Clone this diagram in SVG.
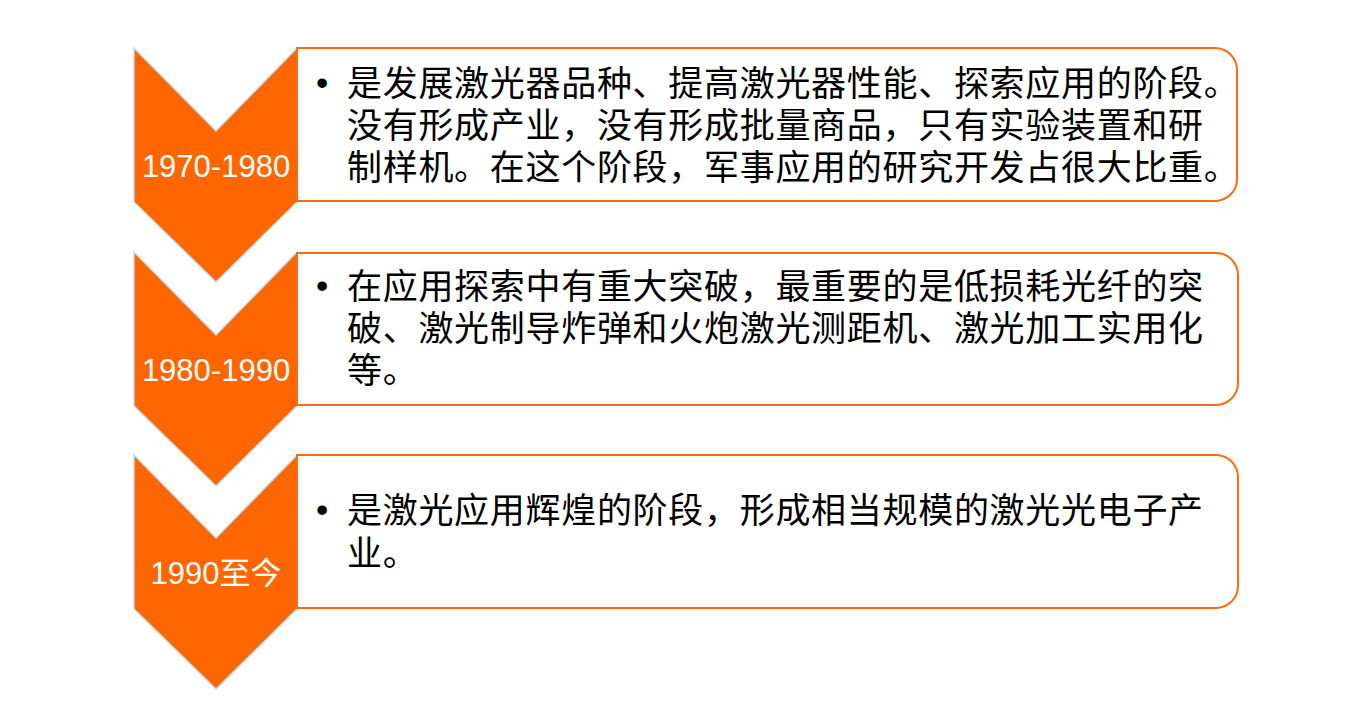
<svg xmlns="http://www.w3.org/2000/svg" width="1369" height="721" viewBox="0 0 1369 721">
<style>
.chev{fill:#ff6600;stroke:#bfe0e4;stroke-width:1.5}
.box{fill:#ffffff;stroke:#ff6a10;stroke-width:2}
.lbl{font-family:"Liberation Sans","Noto Sans CJK SC",sans-serif;font-size:31px;fill:#ffffff;text-anchor:middle}
.txt{font-family:"Noto Sans CJK SC","Noto Sans CJK TC",sans-serif;font-size:35px;letter-spacing:0.7px;fill:#000000}
.bul{font-family:"Liberation Sans",sans-serif;font-size:35px;fill:#000000}
</style>
<rect width="1369" height="721" fill="#ffffff"/>
<g id="connectors"></g>
<g id="stage1">
<polygon class="chev" points="134,48 216,131 297,48 297,202 216,282 134,202"/>
<path class="box" d="M297,48 H1215 A22,22 0 0 1 1237,70 V179 A22,22 0 0 1 1215,201 H297 Z"/>
<text class="lbl" x="216" y="177">1970-1980</text>
<text class="bul" x="316" y="95">•</text>
<text class="txt"><tspan x="347" y="96">是发展激光器品种、提高激光器性能、探索应用的阶段。</tspan><tspan x="347" y="138">没有形成产业，没有形成批量商品，只有实验装置和研</tspan><tspan x="347" y="180">制样机。在这个阶段，军事应用的研究开发占很大比重。</tspan></text>
</g>
<g id="stage2">
<polygon class="chev" points="134,252 216,335 297,252 297,406 216,486 134,406"/>
<path class="box" d="M297,253 H1216 A22,22 0 0 1 1238,275 V383 A22,22 0 0 1 1216,405 H297 Z"/>
<text class="lbl" x="216" y="381">1980-1990</text>
<text class="bul" x="316" y="298">•</text>
<text class="txt"><tspan x="347" y="299">在应用探索中有重大突破，最重要的是低损耗光纤的突</tspan><tspan x="347" y="341">破、激光制导炸弹和火炮激光测距机、激光加工实用化</tspan><tspan x="347" y="383">等。</tspan></text>
</g>
<g id="stage3">
<polygon class="chev" points="134,455 216,538 297,455 297,609 216,689 134,609"/>
<path class="box" d="M297,455 H1216 A22,22 0 0 1 1238,477 V586 A22,22 0 0 1 1216,608 H297 Z"/>
<text class="lbl" x="216" y="584">1990至今</text>
<text class="bul" x="316" y="522">•</text>
<text class="txt"><tspan x="347" y="523">是激光应用辉煌的阶段，形成相当规模的激光光电子产</tspan><tspan x="347" y="566">业。</tspan></text>
</g>
</svg>
